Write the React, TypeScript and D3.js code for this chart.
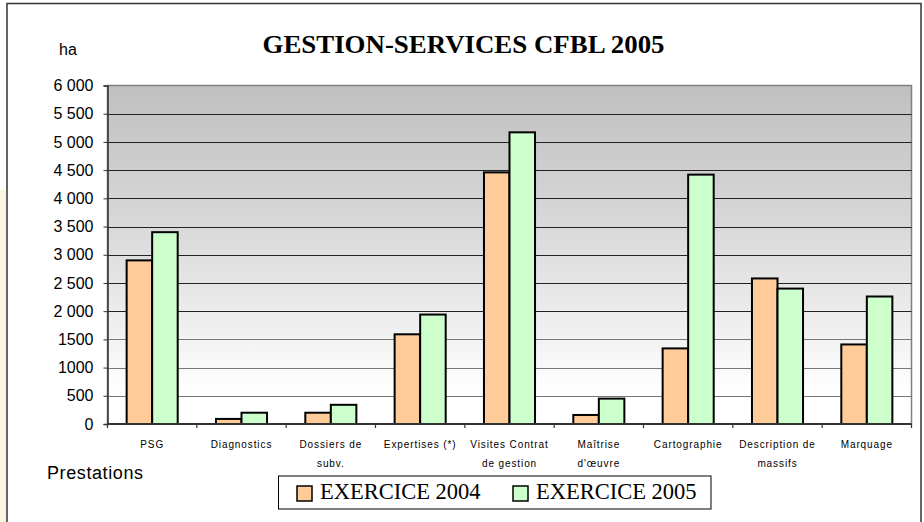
import * as d3 from "d3";
import { useEffect, useRef } from "react";

const categories = [
  "PSG",
  "Diagnostics",
  "Dossiers de\nsubv.",
  "Expertises (*)",
  "Visites Contrat\nde gestion",
  "Maîtrise\nd'œuvre",
  "Cartographie",
  "Description de\nmassifs",
  "Marquage",
];
const seriesNames = ["EXERCICE 2004", "EXERCICE 2005"];
const ex2004 = [2900, 90, 200, 1590, 4460, 160, 1340, 2580, 1410];
const ex2005 = [3400, 200, 340, 1940, 5170, 450, 4420, 2400, 2260];
const yTicks = [0, 500, 1000, 1500, 2000, 2500, 3000, 3500, 4000, 4500, 5000, 5500, 6000];
const yTickLabels = ["0", "500", "1000", "1500", "2 000", "2 500", "3 000", "3 500", "4 000", "4 500", "5 000", "5 500", "6 000"];
const colors = ["#FFCC99", "#CCFFCC"];

const App = () => {
  const svgRef = useRef<SVGSVGElement>(null);

  useEffect(() => {
    const svg = d3.select(svgRef.current);
    svg.selectAll("*").remove();

    const left = 107.5;
    const right = 911.5;
    const top = 85.5;
    const bottom = 424;

    // background bits
    svg.append("rect").attr("x", 0).attr("y", 190).attr("width", 6).attr("height", 332).attr("fill", "#fdf3e2");
    svg
      .append("rect")
      .attr("x", 7)
      .attr("y", 3.5)
      .attr("width", 914)
      .attr("height", 530)
      .attr("fill", "white")
      .attr("stroke", "#333")
      .attr("stroke-width", 1.5);

    const defs = svg.append("defs");
    const grad = defs
      .append("linearGradient")
      .attr("id", "bg")
      .attr("x1", 0)
      .attr("y1", 0)
      .attr("x2", 0)
      .attr("y2", 1);
    grad.append("stop").attr("offset", "0").attr("stop-color", "#c0c0c0");
    grad.append("stop").attr("offset", "0.35").attr("stop-color", "#d4d4d4");
    grad.append("stop").attr("offset", "0.75").attr("stop-color", "#f2f2f2");
    grad.append("stop").attr("offset", "0.9").attr("stop-color", "#ffffff");
    grad.append("stop").attr("offset", "1").attr("stop-color", "#ffffff");

    const x0 = d3.scaleBand<number>().domain(d3.range(categories.length)).range([left, right]).padding(0);
    const x1 = d3
      .scaleBand<number>()
      .domain([0, 1])
      .range([0, x0.bandwidth()])
      .paddingInner(0)
      .paddingOuter(0.75);
    const y = d3.scaleLinear().domain([0, 6000]).range([bottom, top]);

    svg
      .append("rect")
      .attr("x", left)
      .attr("y", top)
      .attr("width", right - left)
      .attr("height", bottom - top)
      .attr("fill", "url(#bg)")
      .attr("stroke", "#808080")
      .attr("stroke-width", 1.5);

    // grid lines
    svg
      .append("g")
      .selectAll("line")
      .data(yTicks.filter((t) => t > 0 && t < 6000))
      .enter()
      .append("line")
      .attr("x1", left)
      .attr("x2", right)
      .attr("y1", (d) => Math.round(y(d)) + 0.5)
      .attr("y2", (d) => Math.round(y(d)) + 0.5)
      .attr("stroke", (d) => (d <= 1500 ? "#777" : "#222"))
      .attr("stroke-width", 1.2);

    // bars
    const series = [ex2004, ex2005];
    series.forEach((vals, s) => {
      svg
        .append("g")
        .selectAll("rect")
        .data(vals)
        .enter()
        .append("rect")
        .attr("x", (d, i) => (x0(i) as number) + (x1(s) as number))
        .attr("y", (d) => y(d))
        .attr("width", x1.bandwidth())
        .attr("height", (d) => bottom - y(d))
        .attr("fill", colors[s])
        .attr("stroke", "#000")
        .attr("stroke-width", 2);
    });

    // y axis
    const yAxis = d3
      .axisLeft(y)
      .tickValues(yTicks)
      .tickSize(4)
      .tickPadding(10)
      .tickFormat((d, i) => yTickLabels[i]);
    const ya = svg.append("g").attr("transform", `translate(${left},0)`).call(yAxis);
    ya.select(".domain").attr("stroke", "#333").attr("stroke-width", 1.5);
    ya.selectAll(".tick line").attr("stroke", "#333");
    ya.selectAll(".tick text")
      .attr("font-family", "Liberation Sans, Arial, sans-serif")
      .attr("font-size", 16)
      .attr("fill", "#000");

    // x axis
    const xa = svg.append("g").attr("transform", `translate(0,${bottom})`);
    xa.append("line")
      .attr("x1", left)
      .attr("x2", right)
      .attr("y1", 0)
      .attr("y2", 0)
      .attr("stroke", "#333")
      .attr("stroke-width", 2);
    xa.selectAll("line.tk")
      .data(d3.range(categories.length + 1))
      .enter()
      .append("line")
      .attr("class", "tk")
      .attr("x1", (i) => left + i * x0.step())
      .attr("x2", (i) => left + i * x0.step())
      .attr("y1", 0)
      .attr("y2", 4)
      .attr("stroke", "#333")
      .attr("stroke-width", 1.2);

    const labels = xa
      .selectAll("text")
      .data(categories)
      .enter()
      .append("text")
      .attr("x", (d, i) => (x0(i) as number) + x0.bandwidth() / 2)
      .attr("y", 24)
      .attr("text-anchor", "middle")
      .attr("font-family", "Liberation Sans, Arial, sans-serif")
      .attr("font-size", 10)
      .attr("letter-spacing", 0.9)
      .attr("fill", "#000");
    labels
      .selectAll("tspan")
      .data((d) => d.split("\n"))
      .enter()
      .append("tspan")
      .attr("x", function () {
        return (this.parentNode as SVGTextElement).getAttribute("x");
      })
      .attr("dy", (d, i) => (i === 0 ? 0 : 19))
      .text((d) => d);

    // titles
    svg
      .append("text")
      .attr("x", 463.5)
      .attr("y", 53)
      .attr("text-anchor", "middle")
      .attr("font-family", "Liberation Serif, Times New Roman, serif")
      .attr("font-weight", "bold")
      .attr("font-size", 26)
      .attr("textLength", 402)
      .attr("lengthAdjust", "spacingAndGlyphs")
      .text("GESTION-SERVICES CFBL 2005");
    svg
      .append("text")
      .attr("x", 59)
      .attr("y", 55)
      .attr("font-family", "Liberation Sans, Arial, sans-serif")
      .attr("font-size", 16)
      .text("ha");
    svg
      .append("text")
      .attr("x", 47)
      .attr("y", 479)
      .attr("font-family", "Liberation Sans, Arial, sans-serif")
      .attr("font-size", 18)
      .attr("letter-spacing", 0.6)
      .text("Prestations");

    // legend
    const lg = svg.append("g");
    lg.append("rect")
      .attr("x", 278.5)
      .attr("y", 476)
      .attr("width", 432.5)
      .attr("height", 33)
      .attr("fill", "white")
      .attr("stroke", "#000")
      .attr("stroke-width", 1);
    seriesNames.forEach((name, s) => {
      const gx = 297 + s * 216;
      lg.append("rect")
        .attr("x", gx)
        .attr("y", 486)
        .attr("width", 15)
        .attr("height", 15)
        .attr("fill", colors[s])
        .attr("stroke", "#000")
        .attr("stroke-width", 1.5);
      lg.append("text")
        .attr("x", gx + 23)
        .attr("y", 499)
        .attr("font-family", "Liberation Serif, Times New Roman, serif")
        .attr("font-size", 22.5)
        .text(name);
    });
  }, []);

  return (
    <svg
      ref={svgRef}
      width={924}
      height={522}
      style={{ position: "absolute", left: 0, top: 0, background: "white" }}
    ></svg>
  );
};

export default App;
